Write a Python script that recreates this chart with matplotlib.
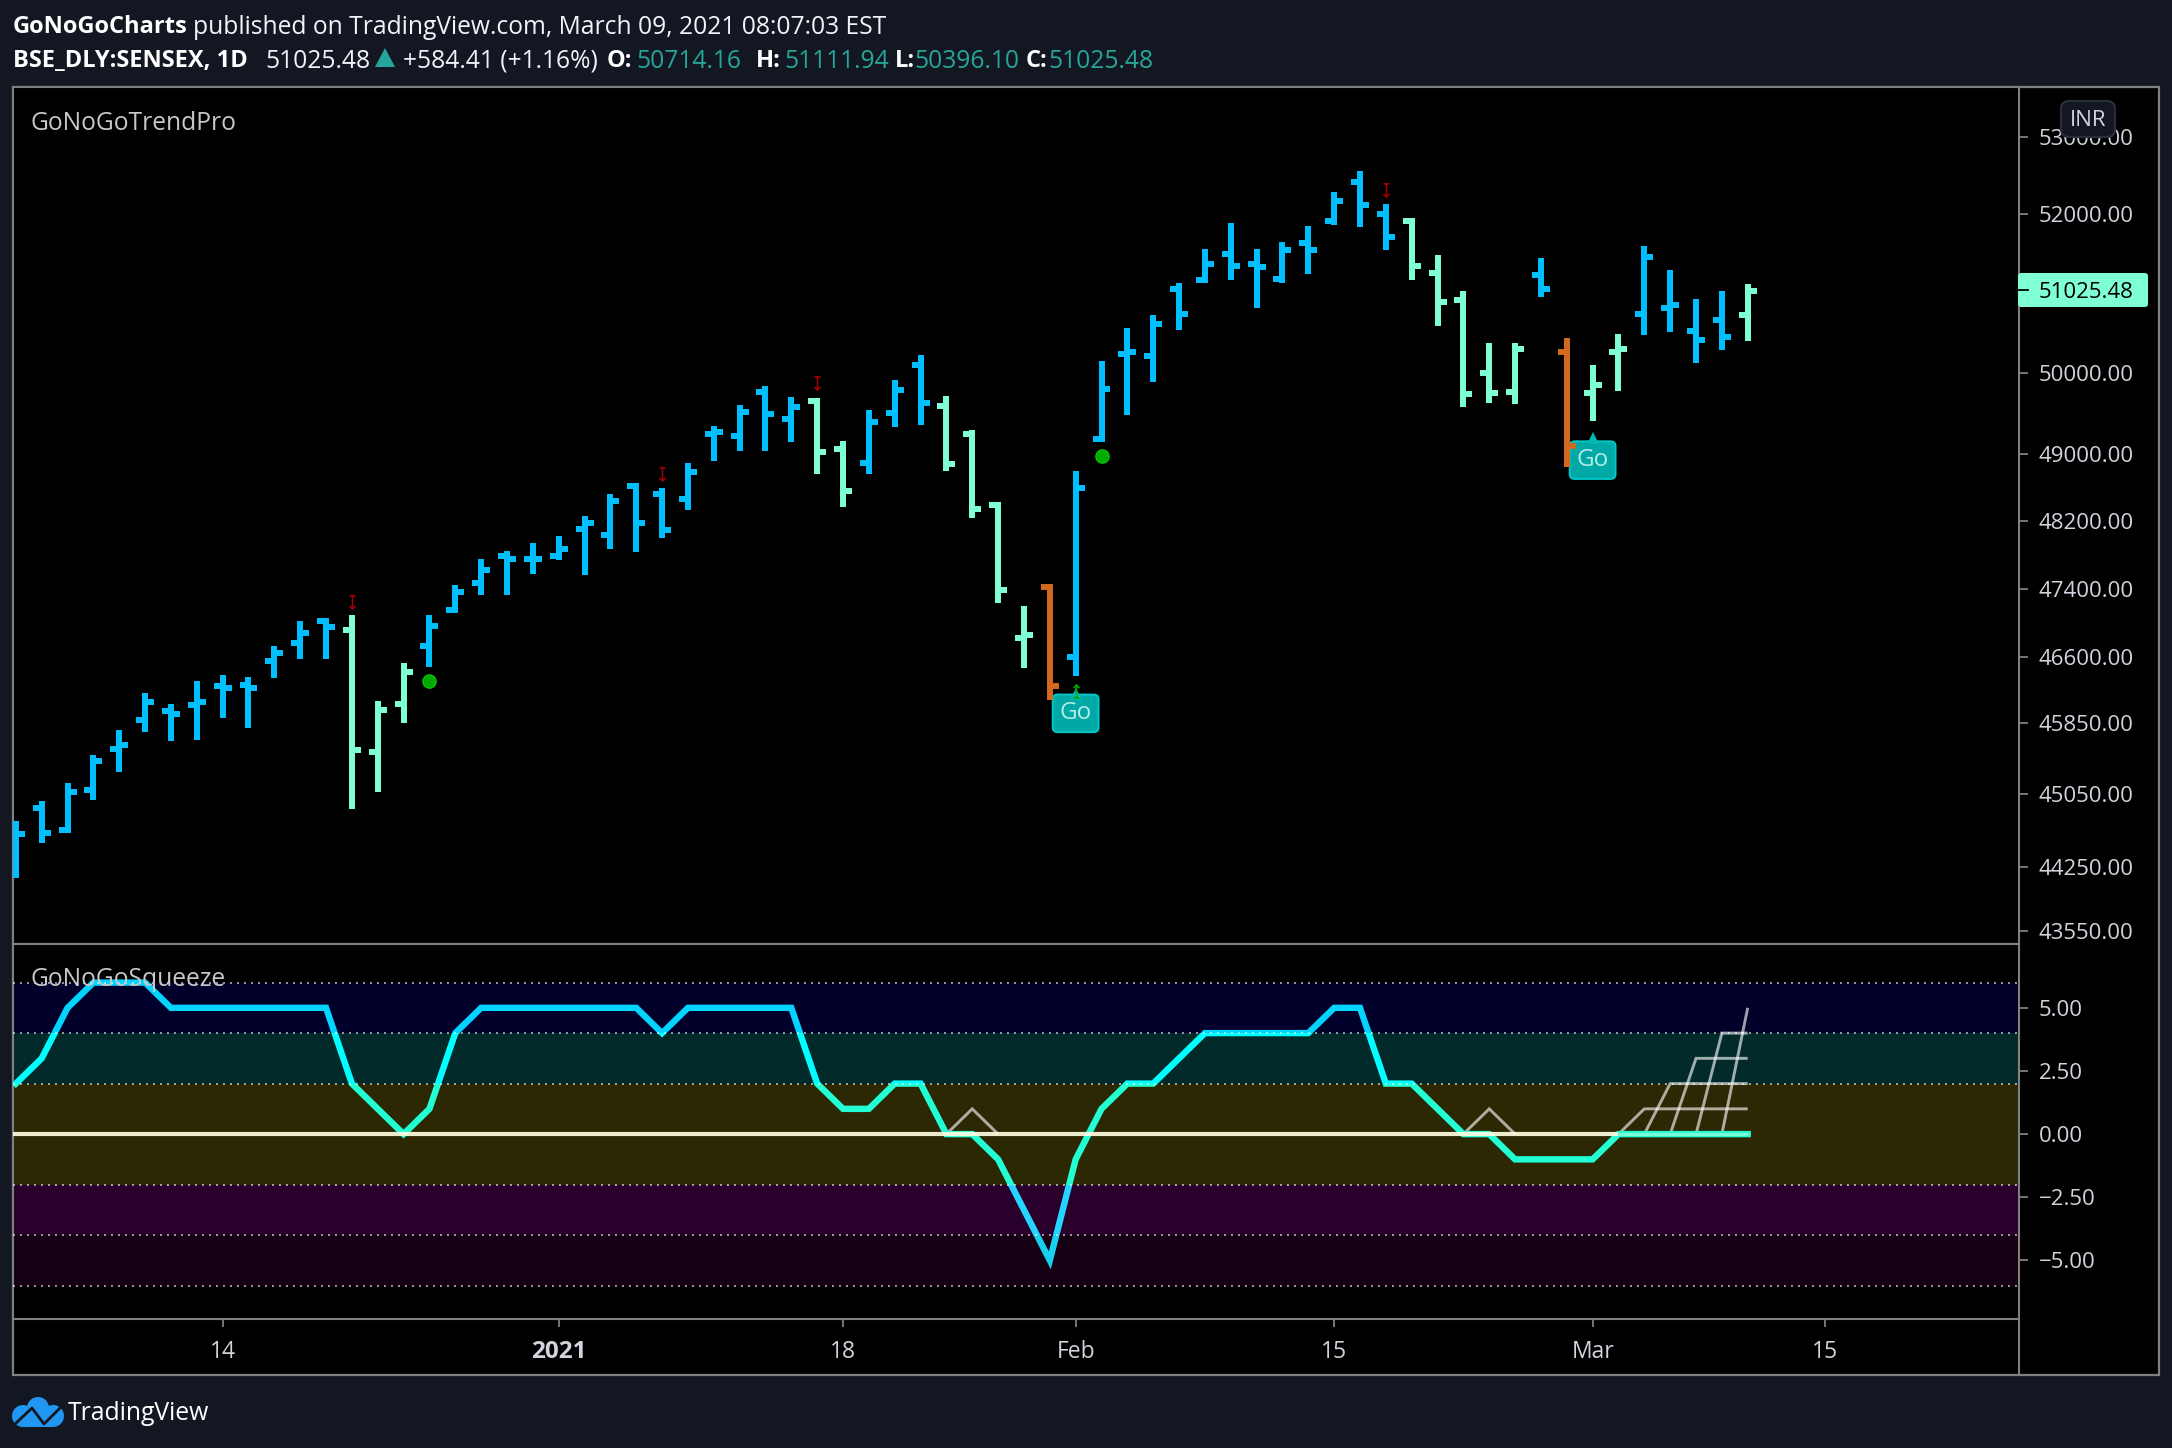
import matplotlib
matplotlib.use('Agg')
import matplotlib.pyplot as plt
from matplotlib.lines import Line2D
from matplotlib.patches import Rectangle, Circle, Polygon, FancyBboxPatch
from matplotlib.path import Path
from matplotlib.transforms import Affine2D

# daily bars
opens = [44445, 44896, 44652, 45096, 45557, 45886, 45989, 46057, 46275, 46287, 46562, 46771, 47016, 46922, 45523, 46068, 46736,
         47144, 47461, 47779, 47744, 47779, 48101, 48029, 48615, 48519, 48459, 49248, 49224, 49764, 49432, 49652, 49064, 48895,
         49505, 50098, 49591, 49248, 48387, 46829, 47414, 46609, 49187, 50235, 50210, 51039, 51153, 51483, 51356, 51166, 51624,
         51907, 52413, 51997, 51907, 51243, 50912, 49999, 49764, 51217, 50260, 49751, 50260, 50736, 50811, 50523, 50660, 50714.16]
highs = [44751, 44973, 45175, 45489, 45773, 46195, 46068, 46333, 46402, 46379, 46736, 47027, 47051, 47086, 46102, 46538, 47086,
         47437, 47744, 47838, 47934, 48017, 48256, 48519, 48650, 48591, 48895, 49346, 49603, 49838, 49702, 49689, 49162, 49542,
         49912, 50222, 49714, 49297, 48423, 47202, 47449, 48798, 50148, 50560, 50723, 51115, 51559, 51881, 51559, 51637, 51842,
         52282, 52556, 52126, 51945, 51470, 51026, 50372, 50372, 51432, 50435, 50098, 50485, 51585, 51292, 50924, 51026, 51111.94]
lows = [44127, 44511, 44619, 44984, 45299, 45750, 45648, 45659, 45909, 45796, 46367, 46585, 46585, 44884, 45074, 45852, 46492,
        47109, 47320, 47320, 47567, 47732, 47555, 47862, 47826, 47993, 48327, 48919, 49040, 49040, 49150, 48762, 48363, 48762,
        49334, 49358, 48798, 48232, 47226, 46481, 46114, 46390, 49150, 49480, 49888, 50535, 51115, 51153, 50811, 51127, 51230,
        51855, 51829, 51546, 51153, 50582, 49578, 49627, 49615, 50950, 48846, 49407, 49776, 50473, 50510, 50123, 50285, 50396.10]
closes = [44607, 44619, 45074, 45422, 45602, 46091, 45955, 46091, 46252, 46252, 46654, 46887, 46957, 45546, 46000, 46436, 46969,
          47355, 47614, 47744, 47744, 47862, 48172, 48435, 48172, 48089, 48786, 49273, 49517, 49493, 49579, 49028, 48556, 49395,
          49789, 49628, 48883, 48339, 47379, 46864, 46275, 48591, 49801, 50260, 50610, 50736, 51356, 51331, 51318, 51534, 51546,
          52165, 52113, 51701, 51331, 50886, 49739, 49751, 50297, 51039, 49101, 49850, 50297, 51445, 50848, 50410, 50448, 51025.48]
# b = go, m = weak go, o = go countertrend
bar_trend = 'b' * 13 + 'm' * 3 + 'b' * 15 + 'm' * 2 + 'b' * 3 + 'm' * 4 + 'o' + 'b' * 13 + 'm' * 5 + 'b' + 'o' + 'm' * 2 + 'b' * 4 + 'm'

sell_idx = [13, 25, 31, 53]
sell_price = [47243, 48766, 49869, 52316]
dot_idx = [16, 42]
dot_price = [46324, 48976]
go_idx = [41, 61]
go_price = [45960, 48930]
go_tip_price = [46183, 49199]
buy_idx = [41]
buy_price = [46212]

squeeze = [2, 3, 5, 6, 6, 6, 5, 5, 5, 5, 5, 5, 5, 2, 1, 0, 1, 4, 5, 5, 5, 5, 5, 5, 5, 4, 5, 5, 5, 5, 5, 2, 1, 1,
           2, 2, 0, 0, -1, -3, -5, -1, 1, 2, 2, 3, 4, 4, 4, 4, 4, 5, 5, 2, 2, 1, 0, 0, -1, -1, -1, -1, 0, 0, 0, 0, 0, 0]
overlays = [
    ([36, 37, 38], [0, 1, 0]),
    ([56, 57, 58], [0, 1, 0]),
    ([62, 63, 64, 65, 66, 67], [0, 1, 1, 1, 1, 1]),
    ([63, 64, 65, 66, 67], [0, 2, 2, 2, 2]),
    ([64, 65, 66, 67], [0, 3, 3, 3]),
    ([65, 66, 67], [0, 4, 4]),
    ([66, 67], [0, 5]),
]

price_ticks = [53000, 52000, 50000, 49000, 48200, 47400, 46600, 45850, 45050, 44250, 43550]
price_labels = ['53000.00', '52000.00', '50000.00', '49000.00', '48200.00', '47400.00', '46600.00', '45850.00', '45050.00', '44250.00', '43550.00']
squeeze_ticks = [5, 2.5, 0, -2.5, -5]
squeeze_labels = ['5.00', '2.50', '0.00', '\u22122.50', '\u22125.00']
date_ticks = [8, 21, 32, 41, 51, 61, 70]
date_labels = ['14', '2021', '18', 'Feb', '15', 'Mar', '15']

W, H = 2172, 1448
BG = '#131722'
GRID = '#808080'
TXT = '#d1d4dc'
TEAL = '#26a69a'
trend_colors = {'b': '#00bfff', 'm': '#7fffd4', 'o': '#d2691e'}

plt.rcParams['font.family'] = ['Open Sans', 'DejaVu Sans']

fig = plt.figure(figsize=(W / 100, H / 100), dpi=100, facecolor=BG)
# pixel coords from top left, for the page furniture
px = Affine2D().scale(1 / W, -1 / H).translate(0, 1) + fig.transFigure


def make_axes(left, top, right, bottom, **kw):
    return fig.add_axes([left / W, 1 - bottom / H, (right - left) / W, (bottom - top) / H], facecolor='black', **kw)


fig.add_artist(Rectangle((12.5, 87), 2159 - 12.5, 1375 - 87, transform=px, facecolor='black', edgecolor=GRID, linewidth=1.6, zorder=-5))

ax = make_axes(12.5, 87, 2019, 943.7)
ax2 = make_axes(12.5, 943.7, 2019, 1318.7, sharex=ax)
x_left, x_right = -0.13, 77.495

# price pane
ax.set_yscale('log')
ax.set_xlim(x_left, x_right)
ax.set_ylim(43415, 53660)
idx = list(range(len(closes)))
colors = [trend_colors[t] for t in bar_trend]

for i, p in zip(go_idx, go_price):
    ax.text(i, p, 'Go', color='#b2ebe8', fontsize=17.5, ha='center', va='center', zorder=2,
            bbox=dict(boxstyle='round,pad=0.28,rounding_size=0.2', facecolor='#00a9a5', edgecolor='#00c8c8', linewidth=1.4))
ax.plot(go_idx, go_tip_price, linestyle='none', marker='^', markersize=9, color='#00b8b4', markeredgewidth=0, zorder=2)

tick = 0.348
ax.vlines(idx, lows, highs, colors=colors, linewidth=4.3, capstyle='butt', zorder=3)
ax.hlines(opens, [i - tick for i in idx], idx, colors=colors, linewidth=4.3, capstyle='butt', zorder=3)
ax.hlines(closes, idx, [i + tick for i in idx], colors=colors, linewidth=4.3, capstyle='butt', zorder=3)

sell_mark = Path([(-0.45, 1), (0.45, 1), (0, 1), (0, -1), (-0.45, -0.5), (0, -1), (0.45, -0.5)],
                 [Path.MOVETO, Path.LINETO, Path.MOVETO, Path.LINETO, Path.MOVETO, Path.LINETO, Path.LINETO])
buy_mark = Path([(-0.45, -1), (0.45, -1), (0, -1), (0, 1), (-0.45, 0.5), (0, 1), (0.45, 0.5)],
                [Path.MOVETO, Path.LINETO, Path.MOVETO, Path.LINETO, Path.MOVETO, Path.LINETO, Path.LINETO])
ax.plot(sell_idx, sell_price, linestyle='none', marker=sell_mark, markersize=9.5, markerfacecolor='none',
        markeredgecolor='#a80000', markeredgewidth=1.1, zorder=4)
ax.plot(buy_idx, buy_price, linestyle='none', marker=buy_mark, markersize=9.5, markerfacecolor='none',
        markeredgecolor='#00a800', markeredgewidth=1.1, zorder=4)
ax.plot(dot_idx, dot_price, linestyle='none', marker='o', markersize=9.5, color='#00a800',
        markeredgecolor='#00c800', markeredgewidth=1, zorder=4)

ax.yaxis.tick_right()
ax.minorticks_off()
ax.set_yticks(price_ticks, price_labels)
ax.minorticks_off()
ax.tick_params(axis='y', length=6.5, width=1.3, color=GRID, labelcolor=TXT, labelsize=16, pad=7.5)
ax.tick_params(axis='x', bottom=False, labelbottom=False)

# squeeze pane
ax2.set_ylim(-7.31, 7.54)
bands = [(4, 6, '#00002a'), (2, 4, '#022a2a'), (-2, 2, '#2c2803'), (-4, -2, '#29002c'), (-6, -4, '#160014')]
for lo, hi, c in bands:
    ax2.axhspan(lo, hi, facecolor=c, edgecolor='none', zorder=0)

for xs, ys in overlays:
    ax2.plot(xs, ys, color='white', alpha=0.62, linewidth=2.1, solid_joinstyle='miter', solid_capstyle='butt', zorder=3)

# the line changes colour by level, so draw it once per band and clip
line_bands = [(4, 9, '#00d4ff'), (2, 4, '#00ffff'), (-2, 2, '#22ffd4'), (-4, -2, '#25d5ff'), (-9, -4, '#18d0ee')]
for lo, hi, c in line_bands:
    ln, = ax2.plot(idx, squeeze, color=c, linewidth=4.6, solid_joinstyle='miter', solid_capstyle='projecting', zorder=4)
    ln.set_clip_path(Rectangle((x_left, lo), x_right - x_left, hi - lo, transform=ax2.transData))

# zero line sits under the last flat stretch of the squeeze line
ax2.plot([x_left, 62], [0, 0], color='#fffde0', alpha=0.92, linewidth=3, solid_capstyle='butt', zorder=5)
ax2.plot([62, idx[-1]], [0, 0], color='#fffde0', alpha=0.4, linewidth=2.2, solid_capstyle='butt', zorder=5)
for level in [6, 4, 2, -2, -4, -6]:
    ax2.axhline(level, color='white', alpha=0.6, linewidth=1.4, linestyle=(0, (1, 2.6)), zorder=6)

ax2.yaxis.tick_right()
ax2.set_yticks(squeeze_ticks, squeeze_labels)
ax2.tick_params(axis='y', length=6.5, width=1.3, color=GRID, labelcolor=TXT, labelsize=16, pad=7.5)
ax2.set_xticks(date_ticks, date_labels)
ax2.tick_params(axis='x', length=6, width=1.3, color=GRID, labelcolor=TXT, labelsize=16.5, pad=9)
for lab in ax2.get_xticklabels():
    if lab.get_text() == '2021':
        lab.set_fontweight('bold')
        lab.set_fontsize(17.5)

for a in (ax, ax2):
    for s in a.spines.values():
        s.set_color(GRID)
        s.set_linewidth(1.5)

fig.add_artist(Line2D([2019, 2019], [1318, 1375], transform=px, color=GRID, linewidth=1.5))

# header
def label(x, y, s, color=TXT, weight='normal', size=17.7, ha='left'):
    return fig.text(x, y, s, transform=px, color=color, fontweight=weight, fontsize=size, ha=ha, va='center_baseline')


label(13, 24, 'GoNoGoCharts', 'white', 'bold', 17)
label(193, 24, 'published on TradingView.com, March 09, 2021 08:07:03 EST', '#f0f3fa')
label(13, 58, 'BSE_DLY:SENSEX, 1D', 'white', 'bold', 17)
label(265, 58, '51025.48', '#f0f3fa')
fig.add_artist(Polygon([(375, 67), (395, 67), (385, 48)], transform=px, facecolor=TEAL, edgecolor='none'))
label(403, 58, '+584.41 (+1.16%)', '#f0f3fa')
label(607, 58, 'O:', 'white', 'bold', 17)
label(636, 58, '50714.16', TEAL)
label(756, 58, 'H:', 'white', 'bold', 17)
label(784, 58, '51111.94', TEAL)
label(895, 58, 'L:', 'white', 'bold', 17)
label(914, 58, '50396.10', TEAL)
label(1026, 58, 'C:', 'white', 'bold', 17)
label(1048, 58, '51025.48', TEAL)

label(30, 120, 'GoNoGoTrendPro', '#c8c8c8')
label(30, 976, 'GoNoGoSqueeze', '#c8c8c8')

# last price tag and currency button
fig.add_artist(FancyBboxPatch((2018, 273), 130, 34, transform=px, boxstyle='round,pad=0,rounding_size=3', facecolor='#7fffd4', edgecolor='none', zorder=5))
fig.add_artist(Line2D([2019, 2028], [290, 290], transform=px, color='black', linewidth=1.3, zorder=6))
label(2039, 290, '51025.48', 'black', size=16).set_zorder(6)
fig.add_artist(FancyBboxPatch((2061, 101), 54, 36, transform=px, boxstyle='round,pad=0,rounding_size=8', facecolor=BG, edgecolor='#2a2e39', linewidth=1.5, zorder=5))
label(2088, 118, 'INR', TXT, size=16, ha='center').set_zorder(6)

# tradingview logo, roughly
for cx, cy, r in [(38, 1408, 11), (23, 1416, 11), (53, 1416, 11)]:
    fig.add_artist(Circle((cx, cy), r, transform=px, facecolor='#2196f3', edgecolor='none'))
fig.add_artist(Rectangle((23, 1412), 30, 15, transform=px, facecolor='#2196f3', edgecolor='none'))
fig.add_artist(Line2D([14, 32, 44, 62], [1425, 1408, 1424, 1406], transform=px, color=BG, linewidth=2))
label(68, 1411, 'TradingView', 'white', size=17.8)

fig.savefig('out.png', dpi=100, facecolor=BG)
